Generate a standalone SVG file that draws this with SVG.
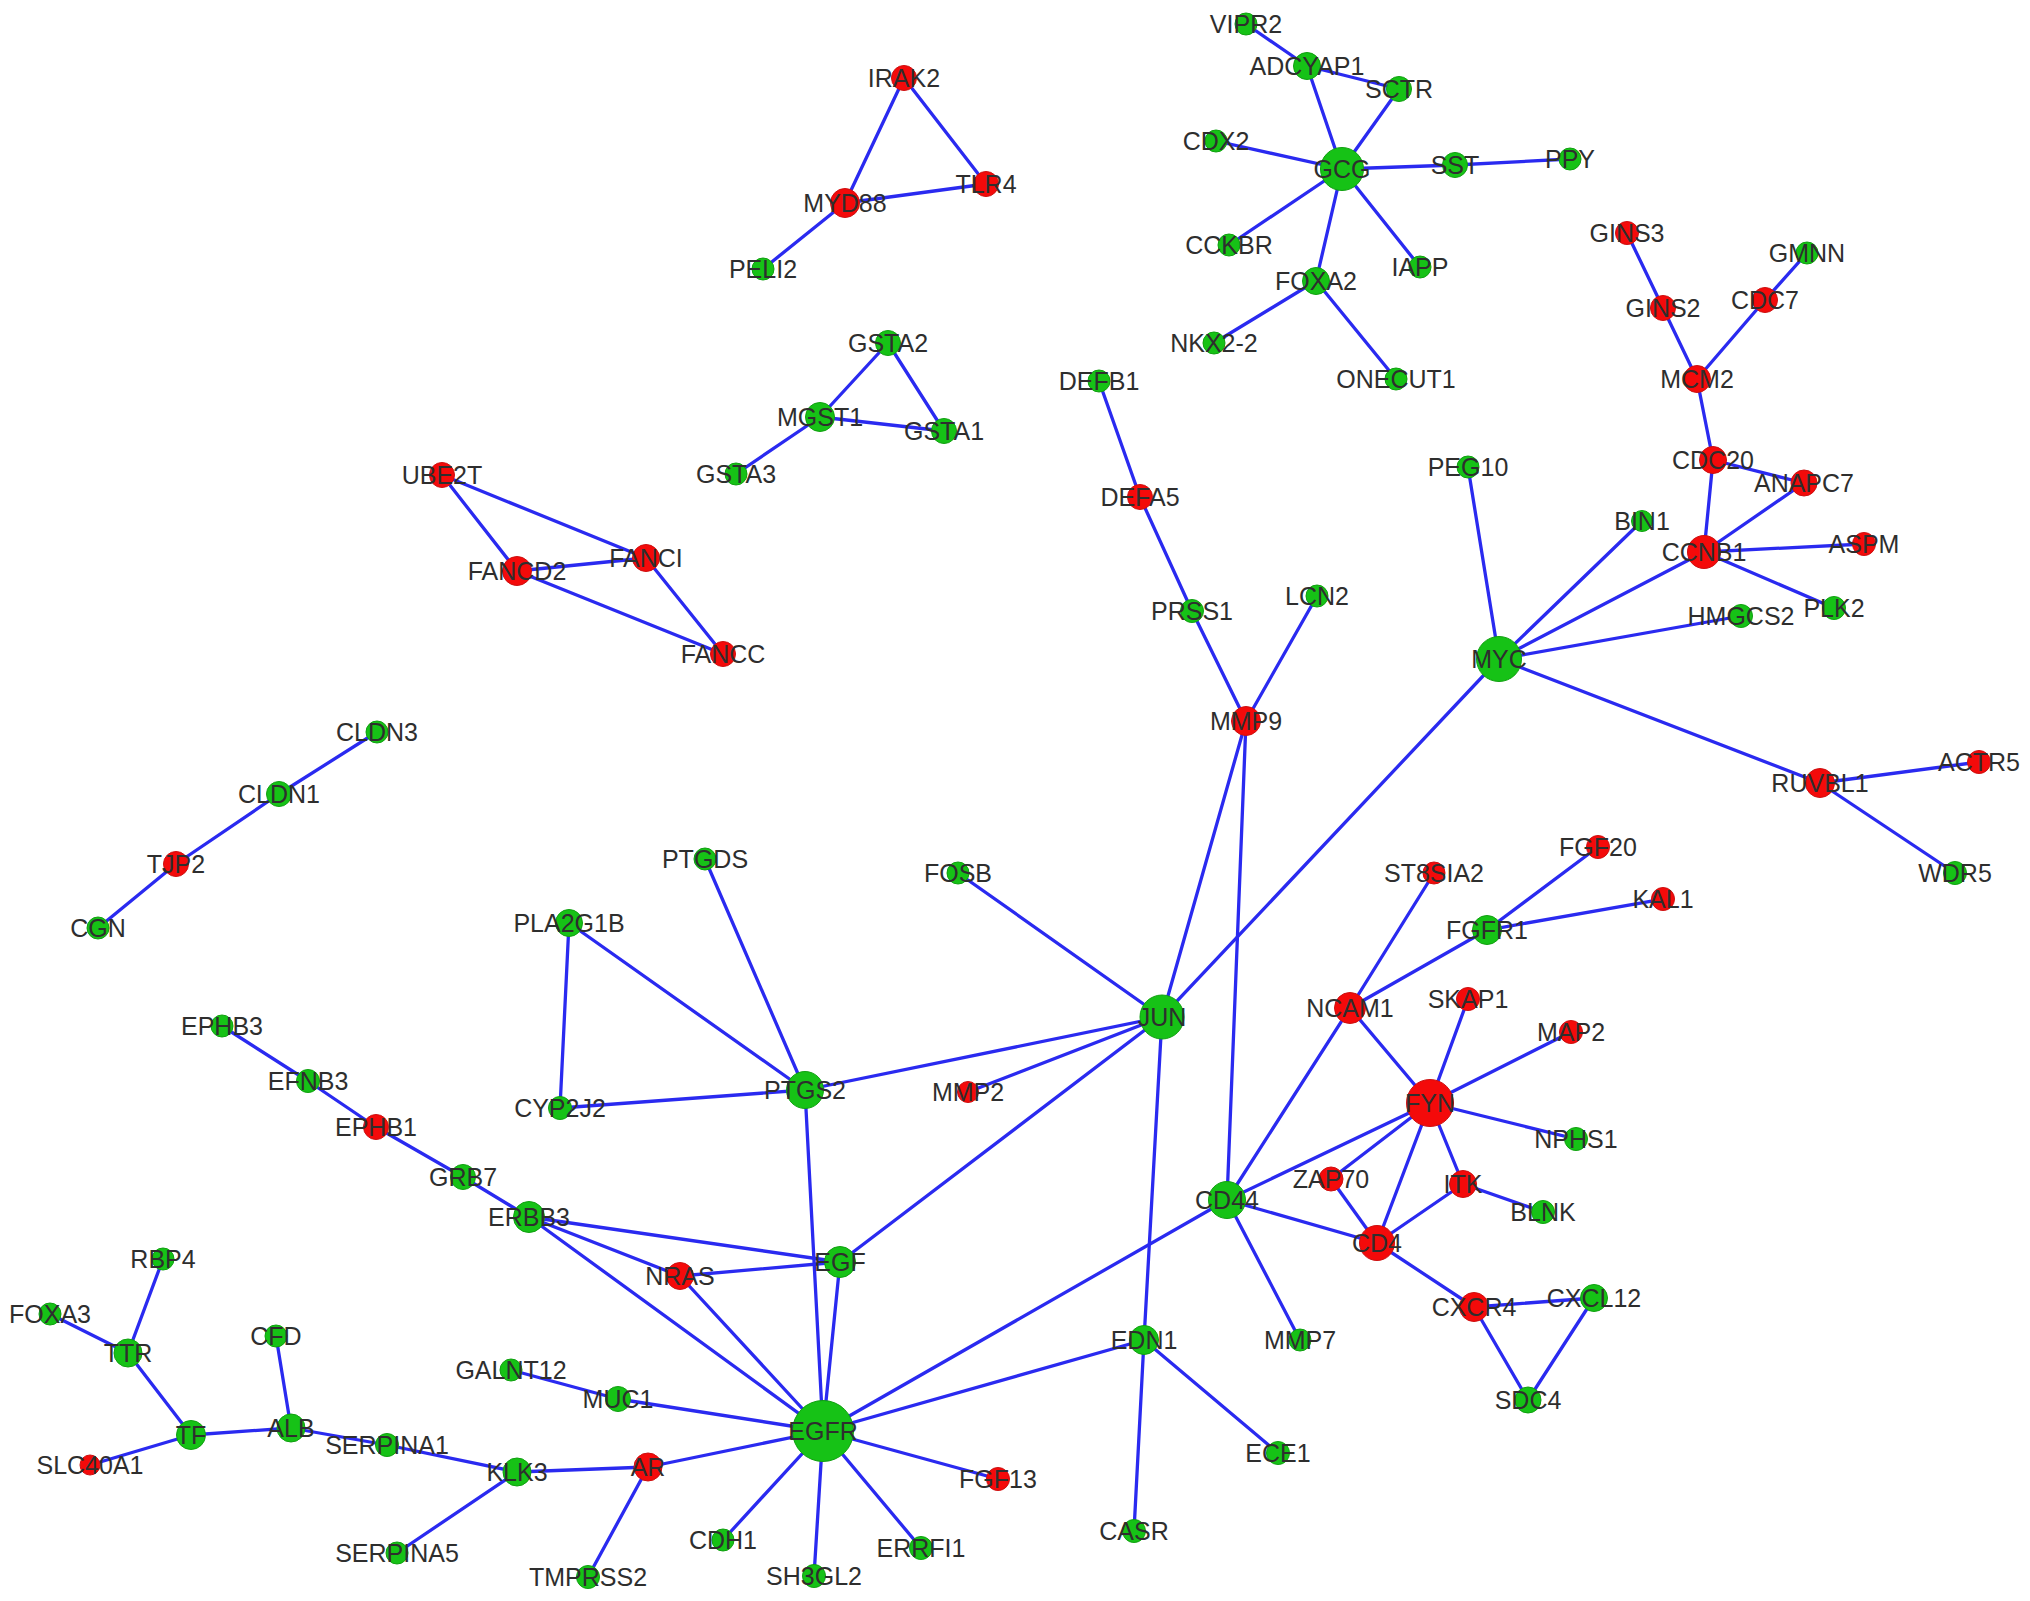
<svg xmlns="http://www.w3.org/2000/svg" width="2030" height="1601" viewBox="0 0 2030 1601">
<style>
.bg{fill:#ffffff}
#edges line{stroke:#2a2af0;stroke-width:3.3;stroke-linecap:round}
.g{fill:#16c216;stroke:#10a010;stroke-width:1}
.r{fill:#f40a0a;stroke:#cc1010;stroke-width:1}
text{font-family:"Liberation Sans",Arial,sans-serif;font-size:25px;fill:#2e2e2e;text-anchor:middle}
</style>
<rect class="bg" x="0" y="0" width="2030" height="1601"/>
<g id="edges">
<line x1="904" y1="78" x2="845" y2="203"/>
<line x1="904" y1="78" x2="986" y2="184"/>
<line x1="845" y1="203" x2="986" y2="184"/>
<line x1="845" y1="203" x2="763" y2="269"/>
<line x1="888" y1="343" x2="820" y2="417"/>
<line x1="888" y1="343" x2="944" y2="431"/>
<line x1="820" y1="417" x2="944" y2="431"/>
<line x1="820" y1="417" x2="736" y2="474"/>
<line x1="442" y1="475" x2="517" y2="571"/>
<line x1="442" y1="475" x2="646" y2="558"/>
<line x1="517" y1="571" x2="646" y2="558"/>
<line x1="517" y1="571" x2="723" y2="654"/>
<line x1="646" y1="558" x2="723" y2="654"/>
<line x1="377" y1="732" x2="279" y2="794"/>
<line x1="279" y1="794" x2="176" y2="864"/>
<line x1="176" y1="864" x2="98" y2="928"/>
<line x1="1246" y1="24" x2="1307" y2="66"/>
<line x1="1307" y1="66" x2="1399" y2="89"/>
<line x1="1307" y1="66" x2="1342" y2="169"/>
<line x1="1399" y1="89" x2="1342" y2="169"/>
<line x1="1216" y1="141" x2="1342" y2="169"/>
<line x1="1342" y1="169" x2="1455" y2="165"/>
<line x1="1455" y1="165" x2="1570" y2="159"/>
<line x1="1342" y1="169" x2="1229" y2="245"/>
<line x1="1342" y1="169" x2="1420" y2="267"/>
<line x1="1342" y1="169" x2="1316" y2="281"/>
<line x1="1316" y1="281" x2="1214" y2="343"/>
<line x1="1316" y1="281" x2="1396" y2="379"/>
<line x1="1099" y1="381" x2="1140" y2="497"/>
<line x1="1140" y1="497" x2="1192" y2="611"/>
<line x1="1192" y1="611" x2="1246" y2="721"/>
<line x1="1317" y1="596" x2="1246" y2="721"/>
<line x1="1246" y1="721" x2="1162" y2="1017"/>
<line x1="1246" y1="721" x2="1227" y2="1200"/>
<line x1="1627" y1="233" x2="1663" y2="308"/>
<line x1="1663" y1="308" x2="1697" y2="379"/>
<line x1="1807" y1="253" x2="1765" y2="300"/>
<line x1="1765" y1="300" x2="1697" y2="379"/>
<line x1="1697" y1="379" x2="1713" y2="460"/>
<line x1="1713" y1="460" x2="1804" y2="483"/>
<line x1="1713" y1="460" x2="1704" y2="552"/>
<line x1="1804" y1="483" x2="1704" y2="552"/>
<line x1="1704" y1="552" x2="1864" y2="544"/>
<line x1="1704" y1="552" x2="1834" y2="608"/>
<line x1="1704" y1="552" x2="1499" y2="659"/>
<line x1="1468" y1="467" x2="1499" y2="659"/>
<line x1="1642" y1="521" x2="1499" y2="659"/>
<line x1="1741" y1="616" x2="1499" y2="659"/>
<line x1="1499" y1="659" x2="1820" y2="783"/>
<line x1="1499" y1="659" x2="1162" y2="1017"/>
<line x1="1820" y1="783" x2="1979" y2="762"/>
<line x1="1820" y1="783" x2="1955" y2="873"/>
<line x1="1598" y1="847" x2="1487" y2="930"/>
<line x1="1663" y1="899" x2="1487" y2="930"/>
<line x1="1487" y1="930" x2="1350" y2="1008"/>
<line x1="1434" y1="873" x2="1350" y2="1008"/>
<line x1="1350" y1="1008" x2="1430" y2="1103"/>
<line x1="1350" y1="1008" x2="1227" y2="1200"/>
<line x1="1468" y1="999" x2="1430" y2="1103"/>
<line x1="1571" y1="1032" x2="1430" y2="1103"/>
<line x1="1430" y1="1103" x2="1576" y2="1139"/>
<line x1="1430" y1="1103" x2="1331" y2="1179"/>
<line x1="1430" y1="1103" x2="1377" y2="1243"/>
<line x1="1430" y1="1103" x2="1463" y2="1184"/>
<line x1="1430" y1="1103" x2="1227" y2="1200"/>
<line x1="1331" y1="1179" x2="1377" y2="1243"/>
<line x1="1463" y1="1184" x2="1377" y2="1243"/>
<line x1="1463" y1="1184" x2="1543" y2="1212"/>
<line x1="1227" y1="1200" x2="1377" y2="1243"/>
<line x1="1377" y1="1243" x2="1474" y2="1307"/>
<line x1="1474" y1="1307" x2="1594" y2="1298"/>
<line x1="1474" y1="1307" x2="1528" y2="1400"/>
<line x1="1594" y1="1298" x2="1528" y2="1400"/>
<line x1="1227" y1="1200" x2="1300" y2="1340"/>
<line x1="1227" y1="1200" x2="823" y2="1431"/>
<line x1="1162" y1="1017" x2="958" y2="873"/>
<line x1="1162" y1="1017" x2="805" y2="1090"/>
<line x1="1162" y1="1017" x2="968" y2="1092"/>
<line x1="1162" y1="1017" x2="840" y2="1262"/>
<line x1="1162" y1="1017" x2="1144" y2="1340"/>
<line x1="805" y1="1090" x2="705" y2="859"/>
<line x1="805" y1="1090" x2="569" y2="923"/>
<line x1="569" y1="923" x2="560" y2="1108"/>
<line x1="560" y1="1108" x2="805" y2="1090"/>
<line x1="805" y1="1090" x2="823" y2="1431"/>
<line x1="222" y1="1026" x2="308" y2="1081"/>
<line x1="308" y1="1081" x2="376" y2="1127"/>
<line x1="376" y1="1127" x2="463" y2="1177"/>
<line x1="463" y1="1177" x2="529" y2="1217"/>
<line x1="529" y1="1217" x2="840" y2="1262"/>
<line x1="529" y1="1217" x2="680" y2="1276"/>
<line x1="529" y1="1217" x2="823" y2="1431"/>
<line x1="680" y1="1276" x2="840" y2="1262"/>
<line x1="680" y1="1276" x2="823" y2="1431"/>
<line x1="840" y1="1262" x2="823" y2="1431"/>
<line x1="823" y1="1431" x2="618" y2="1399"/>
<line x1="618" y1="1399" x2="511" y2="1370"/>
<line x1="823" y1="1431" x2="648" y2="1467"/>
<line x1="648" y1="1467" x2="517" y2="1472"/>
<line x1="648" y1="1467" x2="588" y2="1577"/>
<line x1="517" y1="1472" x2="387" y2="1445"/>
<line x1="517" y1="1472" x2="397" y2="1553"/>
<line x1="387" y1="1445" x2="291" y2="1428"/>
<line x1="291" y1="1428" x2="276" y2="1336"/>
<line x1="291" y1="1428" x2="191" y2="1435"/>
<line x1="191" y1="1435" x2="128" y2="1353"/>
<line x1="191" y1="1435" x2="90" y2="1465"/>
<line x1="128" y1="1353" x2="163" y2="1259"/>
<line x1="128" y1="1353" x2="50" y2="1314"/>
<line x1="823" y1="1431" x2="723" y2="1540"/>
<line x1="823" y1="1431" x2="814" y2="1576"/>
<line x1="823" y1="1431" x2="921" y2="1548"/>
<line x1="823" y1="1431" x2="998" y2="1479"/>
<line x1="823" y1="1431" x2="1144" y2="1340"/>
<line x1="1144" y1="1340" x2="1278" y2="1453"/>
<line x1="1144" y1="1340" x2="1134" y2="1531"/>
</g>
<g id="nodes">
<g id="n-VIPR2"><circle class="g" cx="1246" cy="24" r="11"/><text x="1246" y="33">VIPR2</text></g>
<g id="n-ADCYAP1"><circle class="g" cx="1307" cy="66" r="13.5"/><text x="1307" y="75">ADCYAP1</text></g>
<g id="n-SCTR"><circle class="g" cx="1399" cy="89" r="12.5"/><text x="1399" y="98">SCTR</text></g>
<g id="n-CDX2"><circle class="g" cx="1216" cy="141" r="11"/><text x="1216" y="150">CDX2</text></g>
<g id="n-GCG"><circle class="g" cx="1342" cy="169" r="21.5"/><text x="1342" y="178">GCG</text></g>
<g id="n-SST"><circle class="g" cx="1455" cy="165" r="12.5"/><text x="1455" y="174">SST</text></g>
<g id="n-PPY"><circle class="g" cx="1570" cy="159" r="11"/><text x="1570" y="168">PPY</text></g>
<g id="n-CCKBR"><circle class="g" cx="1229" cy="245" r="11"/><text x="1229" y="254">CCKBR</text></g>
<g id="n-IAPP"><circle class="g" cx="1420" cy="267" r="11"/><text x="1420" y="276">IAPP</text></g>
<g id="n-FOXA2"><circle class="g" cx="1316" cy="281" r="13.5"/><text x="1316" y="290">FOXA2</text></g>
<g id="n-NKX2-2"><circle class="g" cx="1214" cy="343" r="11"/><text x="1214" y="352">NKX2-2</text></g>
<g id="n-ONECUT1"><circle class="g" cx="1396" cy="379" r="11"/><text x="1396" y="388">ONECUT1</text></g>
<g id="n-IRAK2"><circle class="r" cx="904" cy="78" r="12.5"/><text x="904" y="87">IRAK2</text></g>
<g id="n-TLR4"><circle class="r" cx="986" cy="184" r="12.5"/><text x="986" y="193">TLR4</text></g>
<g id="n-MYD88"><circle class="r" cx="845" cy="203" r="14.5"/><text x="845" y="212">MYD88</text></g>
<g id="n-PELI2"><circle class="g" cx="763" cy="269" r="11"/><text x="763" y="278">PELI2</text></g>
<g id="n-GSTA2"><circle class="g" cx="888" cy="343" r="12.5"/><text x="888" y="352">GSTA2</text></g>
<g id="n-MGST1"><circle class="g" cx="820" cy="417" r="14.5"/><text x="820" y="426">MGST1</text></g>
<g id="n-GSTA1"><circle class="g" cx="944" cy="431" r="12.5"/><text x="944" y="440">GSTA1</text></g>
<g id="n-GSTA3"><circle class="g" cx="736" cy="474" r="11"/><text x="736" y="483">GSTA3</text></g>
<g id="n-DEFB1"><circle class="g" cx="1099" cy="381" r="11"/><text x="1099" y="390">DEFB1</text></g>
<g id="n-DEFA5"><circle class="r" cx="1140" cy="497" r="12.5"/><text x="1140" y="506">DEFA5</text></g>
<g id="n-PRSS1"><circle class="g" cx="1192" cy="611" r="11.5"/><text x="1192" y="620">PRSS1</text></g>
<g id="n-LCN2"><circle class="g" cx="1317" cy="596" r="11"/><text x="1317" y="605">LCN2</text></g>
<g id="n-MMP9"><circle class="r" cx="1246" cy="721" r="14.5"/><text x="1246" y="730">MMP9</text></g>
<g id="n-UBE2T"><circle class="r" cx="442" cy="475" r="12.5"/><text x="442" y="484">UBE2T</text></g>
<g id="n-FANCD2"><circle class="r" cx="517" cy="571" r="14.5"/><text x="517" y="580">FANCD2</text></g>
<g id="n-FANCI"><circle class="r" cx="646" cy="558" r="13.5"/><text x="646" y="567">FANCI</text></g>
<g id="n-FANCC"><circle class="r" cx="723" cy="654" r="12.5"/><text x="723" y="663">FANCC</text></g>
<g id="n-CLDN3"><circle class="g" cx="377" cy="732" r="11"/><text x="377" y="741">CLDN3</text></g>
<g id="n-CLDN1"><circle class="g" cx="279" cy="794" r="12.5"/><text x="279" y="803">CLDN1</text></g>
<g id="n-TJP2"><circle class="r" cx="176" cy="864" r="12.5"/><text x="176" y="873">TJP2</text></g>
<g id="n-CGN"><circle class="g" cx="98" cy="928" r="11"/><text x="98" y="937">CGN</text></g>
<g id="n-GINS3"><circle class="r" cx="1627" cy="233" r="11.5"/><text x="1627" y="242">GINS3</text></g>
<g id="n-GMNN"><circle class="g" cx="1807" cy="253" r="11"/><text x="1807" y="262">GMNN</text></g>
<g id="n-GINS2"><circle class="r" cx="1663" cy="308" r="12.5"/><text x="1663" y="317">GINS2</text></g>
<g id="n-CDC7"><circle class="r" cx="1765" cy="300" r="12.5"/><text x="1765" y="309">CDC7</text></g>
<g id="n-MCM2"><circle class="r" cx="1697" cy="379" r="13.5"/><text x="1697" y="388">MCM2</text></g>
<g id="n-CDC20"><circle class="r" cx="1713" cy="460" r="13.5"/><text x="1713" y="469">CDC20</text></g>
<g id="n-ANAPC7"><circle class="r" cx="1804" cy="483" r="13"/><text x="1804" y="492">ANAPC7</text></g>
<g id="n-PEG10"><circle class="g" cx="1468" cy="467" r="11"/><text x="1468" y="476">PEG10</text></g>
<g id="n-BIN1"><circle class="g" cx="1642" cy="521" r="10.5"/><text x="1642" y="530">BIN1</text></g>
<g id="n-CCNB1"><circle class="r" cx="1704" cy="552" r="16.5"/><text x="1704" y="561">CCNB1</text></g>
<g id="n-ASPM"><circle class="r" cx="1864" cy="544" r="11.5"/><text x="1864" y="553">ASPM</text></g>
<g id="n-PLK2"><circle class="g" cx="1834" cy="608" r="11.5"/><text x="1834" y="617">PLK2</text></g>
<g id="n-HMGCS2"><circle class="g" cx="1741" cy="616" r="11.5"/><text x="1741" y="625">HMGCS2</text></g>
<g id="n-MYC"><circle class="g" cx="1499" cy="659" r="22.5"/><text x="1499" y="668">MYC</text></g>
<g id="n-RUVBL1"><circle class="r" cx="1820" cy="783" r="14.5"/><text x="1820" y="792">RUVBL1</text></g>
<g id="n-ACTR5"><circle class="r" cx="1979" cy="762" r="11.5"/><text x="1979" y="771">ACTR5</text></g>
<g id="n-WDR5"><circle class="g" cx="1955" cy="873" r="11.5"/><text x="1955" y="882">WDR5</text></g>
<g id="n-FGF20"><circle class="r" cx="1598" cy="847" r="11.5"/><text x="1598" y="856">FGF20</text></g>
<g id="n-ST8SIA2"><circle class="r" cx="1434" cy="873" r="11"/><text x="1434" y="882">ST8SIA2</text></g>
<g id="n-KAL1"><circle class="r" cx="1663" cy="899" r="11.5"/><text x="1663" y="908">KAL1</text></g>
<g id="n-FGFR1"><circle class="g" cx="1487" cy="930" r="14.5"/><text x="1487" y="939">FGFR1</text></g>
<g id="n-NCAM1"><circle class="r" cx="1350" cy="1008" r="15.5"/><text x="1350" y="1017">NCAM1</text></g>
<g id="n-SKAP1"><circle class="r" cx="1468" cy="999" r="11.5"/><text x="1468" y="1008">SKAP1</text></g>
<g id="n-MAP2"><circle class="r" cx="1571" cy="1032" r="11.5"/><text x="1571" y="1041">MAP2</text></g>
<g id="n-FYN"><circle class="r" cx="1430" cy="1103" r="23.5"/><text x="1430" y="1112">FYN</text></g>
<g id="n-NPHS1"><circle class="g" cx="1576" cy="1139" r="11.5"/><text x="1576" y="1148">NPHS1</text></g>
<g id="n-ZAP70"><circle class="r" cx="1331" cy="1179" r="12"/><text x="1331" y="1188">ZAP70</text></g>
<g id="n-ITK"><circle class="r" cx="1463" cy="1184" r="13.5"/><text x="1463" y="1193">ITK</text></g>
<g id="n-BLNK"><circle class="g" cx="1543" cy="1212" r="11.5"/><text x="1543" y="1221">BLNK</text></g>
<g id="n-CD44"><circle class="g" cx="1227" cy="1200" r="18.5"/><text x="1227" y="1209">CD44</text></g>
<g id="n-CD4"><circle class="r" cx="1377" cy="1243" r="17.5"/><text x="1377" y="1252">CD4</text></g>
<g id="n-CXCR4"><circle class="r" cx="1474" cy="1307" r="14.5"/><text x="1474" y="1316">CXCR4</text></g>
<g id="n-CXCL12"><circle class="g" cx="1594" cy="1298" r="13.5"/><text x="1594" y="1307">CXCL12</text></g>
<g id="n-SDC4"><circle class="g" cx="1528" cy="1400" r="13"/><text x="1528" y="1409">SDC4</text></g>
<g id="n-MMP7"><circle class="g" cx="1300" cy="1340" r="11"/><text x="1300" y="1349">MMP7</text></g>
<g id="n-EDN1"><circle class="g" cx="1144" cy="1340" r="14.5"/><text x="1144" y="1349">EDN1</text></g>
<g id="n-ECE1"><circle class="g" cx="1278" cy="1453" r="11.5"/><text x="1278" y="1462">ECE1</text></g>
<g id="n-CASR"><circle class="g" cx="1134" cy="1531" r="11.5"/><text x="1134" y="1540">CASR</text></g>
<g id="n-JUN"><circle class="g" cx="1162" cy="1017" r="22"/><text x="1162" y="1026">JUN</text></g>
<g id="n-FOSB"><circle class="g" cx="958" cy="873" r="11"/><text x="958" y="882">FOSB</text></g>
<g id="n-PTGDS"><circle class="g" cx="705" cy="859" r="11"/><text x="705" y="868">PTGDS</text></g>
<g id="n-PLA2G1B"><circle class="g" cx="569" cy="923" r="13.5"/><text x="569" y="932">PLA2G1B</text></g>
<g id="n-CYP2J2"><circle class="g" cx="560" cy="1108" r="11.5"/><text x="560" y="1117">CYP2J2</text></g>
<g id="n-PTGS2"><circle class="g" cx="805" cy="1090" r="18.5"/><text x="805" y="1099">PTGS2</text></g>
<g id="n-MMP2"><circle class="r" cx="968" cy="1092" r="10.5"/><text x="968" y="1101">MMP2</text></g>
<g id="n-EPHB3"><circle class="g" cx="222" cy="1026" r="11"/><text x="222" y="1035">EPHB3</text></g>
<g id="n-EFNB3"><circle class="g" cx="308" cy="1081" r="11.5"/><text x="308" y="1090">EFNB3</text></g>
<g id="n-EPHB1"><circle class="r" cx="376" cy="1127" r="12.5"/><text x="376" y="1136">EPHB1</text></g>
<g id="n-GRB7"><circle class="g" cx="463" cy="1177" r="12.5"/><text x="463" y="1186">GRB7</text></g>
<g id="n-ERBB3"><circle class="g" cx="529" cy="1217" r="15.5"/><text x="529" y="1226">ERBB3</text></g>
<g id="n-NRAS"><circle class="r" cx="680" cy="1276" r="13.5"/><text x="680" y="1285">NRAS</text></g>
<g id="n-EGF"><circle class="g" cx="840" cy="1262" r="15.5"/><text x="840" y="1271">EGF</text></g>
<g id="n-EGFR"><circle class="g" cx="823" cy="1431" r="30.5"/><text x="823" y="1440">EGFR</text></g>
<g id="n-GALNT12"><circle class="g" cx="511" cy="1370" r="11"/><text x="511" y="1379">GALNT12</text></g>
<g id="n-MUC1"><circle class="g" cx="618" cy="1399" r="12.5"/><text x="618" y="1408">MUC1</text></g>
<g id="n-FGF13"><circle class="r" cx="998" cy="1479" r="11.5"/><text x="998" y="1488">FGF13</text></g>
<g id="n-CDH1"><circle class="g" cx="723" cy="1540" r="11"/><text x="723" y="1549">CDH1</text></g>
<g id="n-SH3GL2"><circle class="g" cx="814" cy="1576" r="11.5"/><text x="814" y="1585">SH3GL2</text></g>
<g id="n-ERRFI1"><circle class="g" cx="921" cy="1548" r="11.5"/><text x="921" y="1557">ERRFI1</text></g>
<g id="n-AR"><circle class="r" cx="648" cy="1467" r="14"/><text x="648" y="1476">AR</text></g>
<g id="n-KLK3"><circle class="g" cx="517" cy="1472" r="14"/><text x="517" y="1481">KLK3</text></g>
<g id="n-TMPRSS2"><circle class="g" cx="588" cy="1577" r="11.5"/><text x="588" y="1586">TMPRSS2</text></g>
<g id="n-SERPINA5"><circle class="g" cx="397" cy="1553" r="11"/><text x="397" y="1562">SERPINA5</text></g>
<g id="n-SERPINA1"><circle class="g" cx="387" cy="1445" r="11.5"/><text x="387" y="1454">SERPINA1</text></g>
<g id="n-ALB"><circle class="g" cx="291" cy="1428" r="14"/><text x="291" y="1437">ALB</text></g>
<g id="n-CFD"><circle class="g" cx="276" cy="1336" r="11"/><text x="276" y="1345">CFD</text></g>
<g id="n-TF"><circle class="g" cx="191" cy="1435" r="14.5"/><text x="191" y="1444">TF</text></g>
<g id="n-TTR"><circle class="g" cx="128" cy="1353" r="14"/><text x="128" y="1362">TTR</text></g>
<g id="n-RBP4"><circle class="g" cx="163" cy="1259" r="11"/><text x="163" y="1268">RBP4</text></g>
<g id="n-FOXA3"><circle class="g" cx="50" cy="1314" r="11"/><text x="50" y="1323">FOXA3</text></g>
<g id="n-SLC40A1"><circle class="r" cx="90" cy="1465" r="10"/><text x="90" y="1474">SLC40A1</text></g>
</g>
</svg>
